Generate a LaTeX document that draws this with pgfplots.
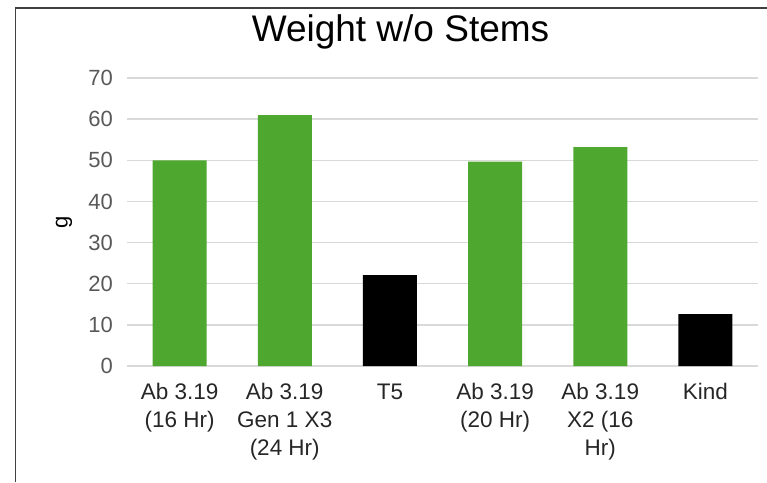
\documentclass[border=0pt]{standalone}
\usepackage{pgfplots}
\pgfplotsset{compat=1.18}
\usepackage{fontspec}
\setmainfont{Liberation Sans}
\definecolor{barGreen}{HTML}{4EA72E}
\definecolor{gridGray}{HTML}{D9D9D9}
\definecolor{tickGray}{HTML}{595959}
\definecolor{catGray}{HTML}{262626}
\definecolor{frameGray}{HTML}{404040}
\begin{document}
\begin{tikzpicture}[x=1pt,y=1pt]
\path[use as bounding box] (0,0) rectangle (767,482);
\draw[frameGray, line width=1.2pt] (15.5,0) -- (15.5,474) -- (767,474);
\node[anchor=base, font=\fontsize{37}{40}\selectfont] at (400.5,440) {Weight w/o Stems};
\begin{axis}[
  at={(127pt,116pt)}, anchor=south west,
  scale only axis, width=631pt, height=288pt,
  /pgf/number format/assume math mode=true,
  ybar, bar width=54pt, bar shift=0pt,
  xmin=-0.5, xmax=5.5, ymin=0, ymax=70,
  ytick={0,10,...,70},
  xtick={0,...,5},
  xticklabels={{Ab 3.19\\(16 Hr)},{Ab 3.19\\Gen 1 X3\\(24 Hr)},{T5},{Ab 3.19\\(20 Hr)},{Ab 3.19\\X2 (16\\Hr)},{Kind}},
  axis line style={draw=none},
  major tick length=0pt,
  ymajorgrids, grid style={gridGray, line width=1.5pt},
  xticklabel style={align=center, font=\fontsize{22.5}{28}\selectfont, text=catGray, yshift=-14pt},
  yticklabel style={font=\fontsize{22}{26}\selectfont, text=tickGray, inner xsep=0pt, xshift=-14pt},
  ylabel={g},
  ylabel style={at={(axis description cs:-0.0998,0.5)}, anchor=center, font=\fontsize{22}{26}\selectfont, text=black},
]
\addplot[fill=barGreen, draw=none] coordinates {(0,50.0) (1,61.0) (3,49.7) (4,53.2)};
\addplot[fill=black, draw=none] coordinates {(2,22.1) (5,12.6)};
\end{axis}
\end{tikzpicture}
\end{document}
